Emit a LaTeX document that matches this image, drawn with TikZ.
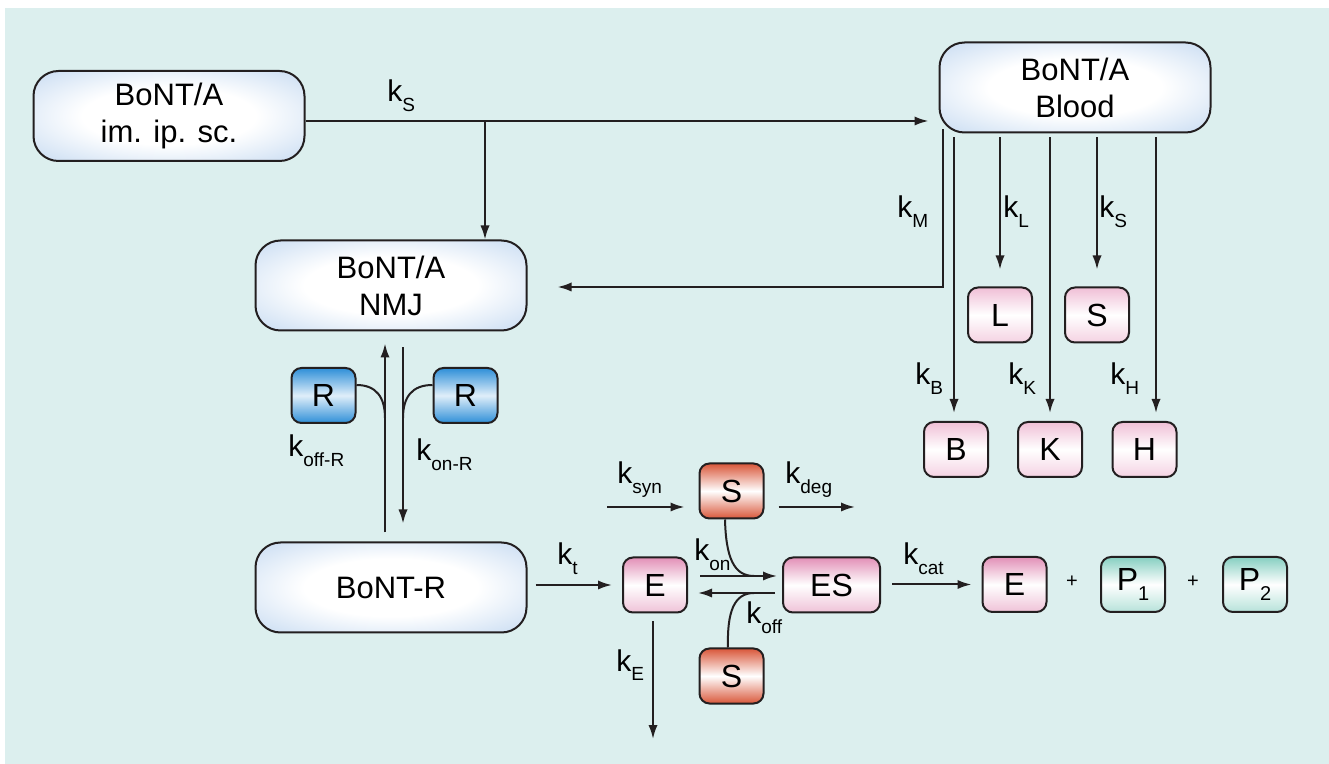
\documentclass[tikz,border=0pt]{standalone}
\usepackage{fontspec}
\setmainfont{Liberation Sans}
\usetikzlibrary{arrows.meta}
\definecolor{bg}{HTML}{DCEFEE}
\definecolor{bluebox}{HTML}{BCD4EF}
\definecolor{pinkL}{HTML}{F0BFD6}
\definecolor{pinkE}{HTML}{E290B7}
\definecolor{rblue}{HTML}{2E8FD8}
\definecolor{sred}{HTML}{D9573A}
\definecolor{teal}{HTML}{86CFC1}
\definecolor{ink}{HTML}{231F20}
\pgfdeclareradialshading{glow}{\pgfpoint{0bp}{0bp}}{color(0bp)=(white); color(16bp)=(white); color(40bp)=(bluebox); color(50bp)=(bluebox)}
\newcommand{\kk}[1]{k\raisebox{-5pt}{\fontsize{9.5}{9.5}\selectfont #1}}
\tikzset{
  arr/.style={draw=ink, line width=1pt, -{Latex[length=7pt,width=4.6pt]}},
  ln/.style={draw=ink, line width=1pt},
  bigbox/.style={draw=ink, line width=1pt, rounded corners=12.5pt, minimum width=135.5pt, minimum height=45pt,
    shading=glow, align=center, font=\fontsize{15.5}{18.5}\selectfont},
  sbox/.style={draw=ink, line width=1pt, rounded corners=5pt, minimum width=32pt, minimum height=27.5pt,
    inner sep=0pt, font=\fontsize{16}{16}\selectfont},
  pinkbox/.style={sbox, top color=pinkL, bottom color=pinkL!70, middle color=white},
  ebox/.style={sbox, top color=pinkE, bottom color=pinkE!55, middle color=white},
  rbox/.style={sbox, top color=rblue, bottom color=rblue, middle color=rblue!15},
  sbx/.style={sbox, top color=sred, bottom color=sred, middle color=white},
  pbox/.style={sbox, top color=teal, bottom color=teal!60, middle color=white},
  lab/.style={anchor=base west, inner sep=0pt, font=\fontsize{15}{15}\selectfont},
  plus/.style={inner sep=0pt, font=\fontsize{10}{10}\selectfont}
}
\begin{document}
\begin{tikzpicture}[x=0.5pt,y=-0.5pt]
\useasboundingbox (0,0) rectangle (1329,764);
\fill[bg] (5,8) rectangle (1329,764);

% big boxes
\node[bigbox] (n1) at (169,116) {BoNT/A\\im. ip. sc.};
\node[bigbox] (blood) at (1075,87.5) {BoNT/A\\Blood};
\node[bigbox] (nmj) at (391,285.5) {BoNT/A\\NMJ};
\node[bigbox] (bontr) at (391,587.5) {BoNT-R};

% receptor boxes
\node[rbox] (rl) at (323.5,395.5) {R};
\node[rbox] (rr) at (465.5,395.5) {R};

% organ boxes
\node[pinkbox] (l) at (1000,315) {L};
\node[pinkbox] (s2) at (1097,315) {S};
\node[pinkbox] (b) at (956,449.5) {B};
\node[pinkbox] (k) at (1050,449.5) {K};
\node[pinkbox] (h) at (1144.5,449.5) {H};

% enzyme kinetics
\node[ebox] (e) at (655,585) {E};
\node[ebox, minimum width=48.5pt] (es) at (831.5,585) {ES};
\node[sbx] (stop) at (731.5,491) {S};
\node[sbx] (sbot) at (731.5,676) {S};
\node[ebox] (e2) at (1014.5,584.5) {E};
\node[pbox] (p1) at (1133,584.5) {P\raisebox{-5pt}{\fontsize{10}{10}\selectfont 1}};
\node[pbox] (p2) at (1255,584.5) {P\raisebox{-5pt}{\fontsize{10}{10}\selectfont 2}};
\node[plus] (pl1) at (1072,582) {+};
\node[plus] (pl2) at (1193,582) {+};

% main flow
\coordinate (j1) at (485,121);
\draw[arr] (n1.east |- j1) -- ([xshift=-5pt]blood.west |- j1);
\draw[arr] (j1) -- (j1 |- nmj.north);

% blood outflows
\coordinate (cM) at (943,287);
\draw[arr] ([yshift=2pt]blood.south -| cM) -- (cM) -- ([xshift=15pt]nmj.east |- cM);
\coordinate (bx) at (954,0);
\coordinate (hx) at (1156,0);
\draw[arr] ([yshift=-2pt]blood.south -| bx) -- ([yshift=4pt]b.north -| bx);
\draw[arr] ([yshift=-2pt]blood.south -| l.north) -- ([yshift=8.5pt]l.north);
\draw[arr] ([yshift=-2pt]blood.south -| k.north) -- ([yshift=4pt]k.north);
\draw[arr] ([yshift=-2pt]blood.south -| s2.north) -- ([yshift=8.5pt]s2.north);
\draw[arr] ([yshift=-2pt]blood.south -| hx) -- ([yshift=4pt]h.north -| hx);

% NMJ <-> BoNT-R
\coordinate (up) at (385,0);
\coordinate (dn) at (403,0);
\draw[arr] ([yshift=4.5pt]bontr.north -| up) -- ([yshift=-6pt]nmj.south -| up);
\draw[arr] ([yshift=-8pt]nmj.south -| dn) -- ([yshift=9pt]bontr.north -| dn);
\coordinate (ry) at (0,385);
\coordinate (jl) at (385,418);
\coordinate (jr) at (403,418);
\draw[ln] (rl.east |- ry) .. controls (376,385) and (385,397) .. (jl);
\draw[ln] (rr.west |- ry) .. controls (412,385) and (403,397) .. (jr);

% BoNT-R -> E
\draw[arr] ([xshift=4pt]bontr.east |- e.west) -- ([xshift=-5pt]e.west);

% synthesis / degradation
\coordinate (synstart) at (607,507);
\coordinate (degend) at (855,507);
\draw[arr] (synstart) -- ([xshift=-7pt]stop.west |- synstart);
\draw[arr] ([xshift=7pt]stop.east |- degend) -- (degend);

% binding
\coordinate (on) at (0,576);
\coordinate (off) at (0,593);
\coordinate (jon) at (754,576);
\coordinate (joff) at (754,593);
\coordinate (sc1) at (725,0);
\coordinate (sc2) at (728,0);
\draw[arr] ([xshift=6pt]e.east |- on) -- ([xshift=-2.5pt]es.west |- on);
\draw[ln] (stop.south -| sc1) .. controls (726,558) and (734,576) .. (jon);
\draw[arr] ([xshift=-3.5pt]es.west |- off) -- ([xshift=5pt]e.east |- off);
\draw[ln] (sbot.north -| sc2) .. controls (727,612) and (734,593) .. (joff);

% elimination
\coordinate (ed) at (653,739);
\draw[arr] ([yshift=-4pt]e.south -| ed) -- (ed);

% catalysis
\draw[arr] ([xshift=5.5pt]es.east |- e2.west) -- ([xshift=-5pt]e2.west);

% labels
\node[lab] (lS1) at (387,102) {\kk{S}};
\node[lab] (lM) at (897,218) {\kk{M}};
\node[lab] (lL) at (1003,218) {\kk{L}};
\node[lab] (lS2) at (1099,218) {\kk{S}};
\node[lab] (lB) at (915,385) {\kk{B}};
\node[lab] (lK) at (1008,385) {\kk{K}};
\node[lab] (lH) at (1110,385) {\kk{H}};
\node[lab] (loffR) at (288,457) {\kk{off-R}};
\node[lab] (lonR) at (416,461) {\kk{on-R}};
\node[lab] (lt) at (557,565) {\kk{t}};
\node[lab] (lsyn) at (617,484) {\kk{syn}};
\node[lab] (ldeg) at (785,484) {\kk{deg}};
\node[lab] (lon) at (694,561) {\kk{on}};
\node[lab] (loff) at (746,624) {\kk{off}};
\node[lab] (lE) at (616,671) {\kk{E}};
\node[lab] (lcat) at (903,565) {\kk{cat}};
\end{tikzpicture}
\end{document}
